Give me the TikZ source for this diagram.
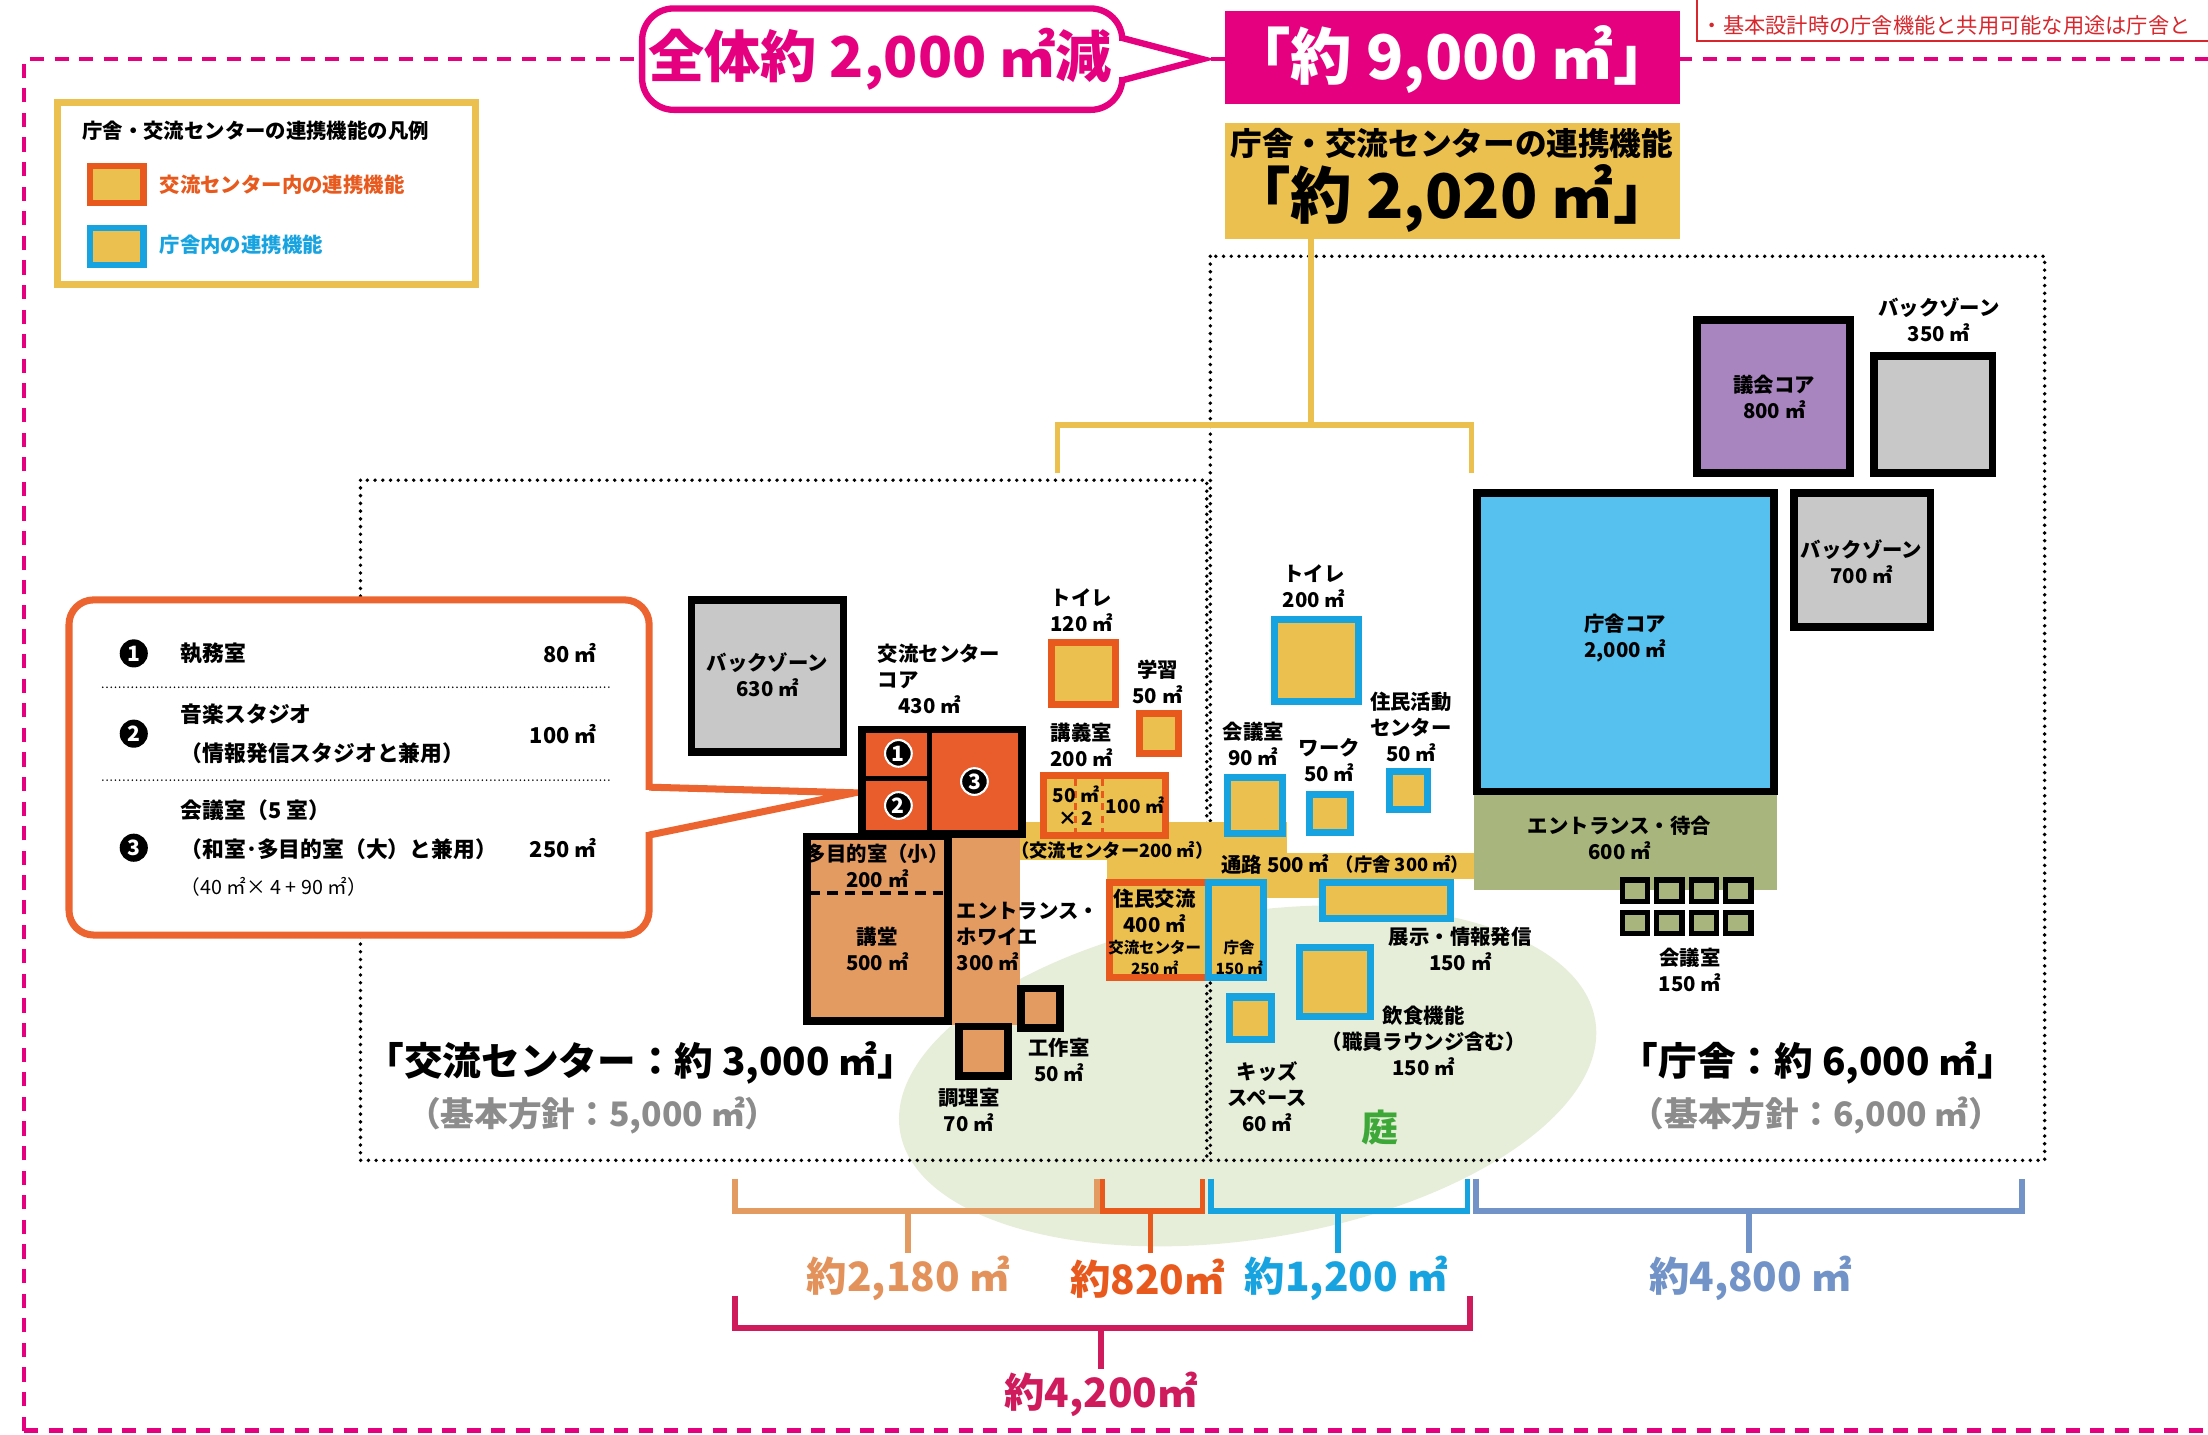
\documentclass[tikz,border=0pt]{standalone}
\usepackage{fontspec}
\setmainfont{Noto Sans CJK JP}
\usetikzlibrary{positioning}

\definecolor{pinkM}{HTML}{E4007F}
\definecolor{goldY}{HTML}{ECC04E}
\definecolor{orangeB}{HTML}{E8591D}
\definecolor{orangeC}{HTML}{EC6530}
\definecolor{coreR}{HTML}{E95C2C}
\definecolor{tanO}{HTML}{E39B62}
\definecolor{tanT}{HTML}{E2925A}
\definecolor{blueB}{HTML}{17A3E0}
\definecolor{blueC}{HTML}{56C0EE}
\definecolor{greenE}{HTML}{A8B57C}
\definecolor{purpleC}{HTML}{A885BF}
\definecolor{grayZ}{HTML}{C8C8C8}
\definecolor{gardenG}{HTML}{E6EEDA}
\definecolor{slateB}{HTML}{7193C7}
\definecolor{crimsonB}{HTML}{CF1A5B}
\definecolor{grayT}{HTML}{8C8C8C}
\definecolor{redT}{HTML}{D7262C}
\definecolor{niwaG}{HTML}{3DA838}

\newcommand\fsz[2]{\fontsize{#1}{#2}\selectfont}

\tikzset{
  lbl/.style={font=\fsz{5.8}{7.4}\bfseries, align=center, inner sep=0pt},
  small/.style={font=\fsz{4.4}{6}\bfseries, align=center, inner sep=0pt},
  cltxt/.style={font=\fsz{6.2}{11.2}\bfseries, inner sep=0pt},
  blk/.style={draw=black, line width=2.2pt},
  orgbox/.style={draw=orangeB, line width=2pt, fill=goldY},
  bluebox/.style={draw=blueB, line width=2pt, fill=goldY},
  dotline/.style={line width=1.1pt, line cap=round, dash pattern=on 0pt off 2.2pt},
  pinkdash/.style={draw=pinkM, line width=1.3pt, dash pattern=on 4pt off 3pt},
  goldline/.style={draw=goldY, line width=1.6pt},
  bracket/.style={line width=1.6pt},
  sumlbl/.style={font=\fsz{11.5}{13}\bfseries, inner sep=0pt},
  numdot/.style={circle, fill=black, text=white, inner sep=0pt,
    minimum size=8pt, font=\fsz{6}{7}\bfseries},
  coredot/.style={numdot, draw=white, line width=0.6pt, minimum size=7.6pt},
}

\begin{document}
\begin{tikzpicture}[x=0.01408cm, y=-0.01408cm]
  % Page: same units as the reference (1568 x 1019)
  \useasboundingbox (0,0) rectangle (1568,1019);
  \clip (0,0) rectangle (1568,1019);

  % Garden behind everything
  \fill[gardenG, rotate around={9:(886,764)}] (886,764) ellipse [x radius=250, y radius=116];

  % Outer dashed frame (runs off to the right)
  \draw[pinkdash] (17,1016) -- (17,42) -- (1590,42);
  \draw[pinkdash] (17,1016) -- (1590,1016);

  % Note box, top right (cut by the page edge)
  \draw[redT, line width=0.55pt] (1205,-5) -- (1205,29) -- (1590,29);
  \node[font=\fsz{6.05}{7.5}, text=redT, anchor=west, inner sep=0pt] (note) at (1208,18)
    {・基本設計時の庁舎機能と共用可能な用途は庁舎と};

  % Speech bubble: total reduction
  \draw[pinkM, line width=1.8pt, fill=white, rounded corners=9pt] (456,6) rectangle (797,78);
  \fill[white] (793,29) rectangle (802,55);
  \draw[pinkM, line width=1.8pt, fill=white] (797,27) -- (854,42) -- (797,57);
  \node[font=\fsz{16}{18}\bfseries, text=pinkM] (cut) at (625,42) {全体約 2,000 ㎡減};

  % Total floor area
  \fill[pinkM] (870,8) rectangle (1193,74);
  \node[font=\fsz{17.5}{20}\bfseries, text=white] (total) at (1031,42) {「約 9,000 ㎡」};

  % Shared functions
  \fill[goldY] (870,87) rectangle (1193,170);
  \node[font=\fsz{9}{10}\bfseries] (linkttl) at (1031,102) {庁舎・交流センターの連携機能};
  \node[font=\fsz{17.5}{20}\bfseries] (linkarea) at (1031,141) {「約 2,020 ㎡」};

  % Dotted outlines of the two buildings
  \draw[dotline] (256,341) rectangle (857,824);
  \draw[dotline] (859.5,182) rectangle (1452,824);

  % Gold tree from the shared-function box
  \coordinate (linkfoot) at (931,170);
  \coordinate (linkmid) at (931,302);
  \draw[goldline] (linkfoot) -- (linkmid);
  \draw[goldline] (751,336) |- (1045,302) -- (1045,336);

  % Legend
  \draw[goldY, line width=2pt, fill=white] (41,73) rectangle (338,202);
  \node[lbl, anchor=west] (legttl) at (58,93) {庁舎・交流センターの連携機能の凡例};
  \draw[orangeB, line width=1.8pt, fill=goldY] (64,118) rectangle (102,144);
  \node[lbl, anchor=west, text=orangeB] (legkoryu) at (113,131) {交流センター内の連携機能};
  \draw[blueB, line width=1.8pt, fill=goldY] (64,162) rectangle (102,188);
  \node[lbl, anchor=west, text=blueB] (legchosha) at (113,174) {庁舎内の連携機能};

  % Callout for the core rooms
  \draw[orangeC, line width=2pt, fill=white, rounded corners=7pt] (49,426) rectangle (461,664);
  \fill[white] (456,561) rectangle (467,591);
  \draw[orangeC, line width=2pt] (461,559) -- (607,563) -- (461,593);
  \node[numdot] (c1) at (95,464) {1};
  \node[cltxt, anchor=west] (c1name) at (128,464) {執務室};
  \node[cltxt, anchor=east] (c1area) at (424,464) {80 ㎡};
  \draw[dotline, line width=0.5pt, dash pattern=on 0pt off 1.2pt] (73,488) -- (433,488);
  \node[numdot] (c2) at (95,521) {2};
  \node[cltxt, anchor=west, align=left] (c2name) at (128,521) {音楽スタジオ\\（情報発信スタジオと兼用）};
  \node[cltxt, anchor=east] (c2area) at (424,521) {100 ㎡};
  \draw[dotline, line width=0.5pt, dash pattern=on 0pt off 1.2pt] (73,554) -- (433,554);
  \node[numdot] (c3) at (95,602) {3};
  \node[cltxt, anchor=west, align=left] (c3name) at (128,589) {会議室（5 室）\\（和室･多目的室（大）と兼用）};
  \node[cltxt, anchor=east] (c3area) at (424,602) {250 ㎡};
  \node[font=\fsz{5.6}{7}, anchor=west, inner sep=0pt] (c3note) at (128,630) {（40 ㎡× 4 + 90 ㎡）};

  % Gold corridor band
  \fill[goldY] (724,584) rectangle (914,611);
  \fill[goldY] (786,584) rectangle (914,628);
  \fill[goldY] (858,606) rectangle (1048,624);
  \fill[goldY] (895,606) rectangle (937,638);

  % Exchange centre rooms
  \draw[blk, fill=grayZ] (491,426) rectangle (599,534);
  \node[lbl] (bz630) at (545,479) {バックゾーン\\630 ㎡};
  \fill[tanO] (673,592) rectangle (724,728);
  \draw[blk, fill=tanO] (573,594) rectangle (673,725);
  \draw[black, line width=1.1pt, dash pattern=on 3pt off 2pt] (575,634) -- (671,634);
  \draw[blk, fill=coreR] (612,518) rectangle (726,592);
  \draw[black, line width=1.3pt] (660,518) -- (660,592);
  \draw[black, line width=1.3pt] (612,553) -- (660,553);
  \node[coredot] (k1) at (638,535) {1};
  \node[coredot] (k2) at (638,572) {2};
  \node[coredot] (k3) at (692,555) {3};
  \node[lbl, anchor=north west, align=left] (kcore) at (623,457) {交流センター\\コア\\\hphantom{コ}430 ㎡};
  \node[lbl] (tamoku) at (623,615) {多目的室（小）\\200 ㎡};
  \node[lbl] (kodo) at (623,674) {講堂\\500 ㎡};
  \node[lbl, anchor=west, align=left] (hoyer) at (679,665) {エントランス・\\ホワイエ\\300 ㎡};
  \draw[blk, fill=tanO] (681,729) rectangle (716,764);
  \draw[blk, fill=tanO] (725,702) rectangle (753,730);
  \node[lbl] (kosaku) at (752,753) {工作室\\50 ㎡};
  \node[lbl] (chori) at (688,788) {調理室\\70 ㎡};

  % Shared rooms inside the exchange centre
  \draw[orgbox] (747,456) rectangle (792,500);
  \node[lbl] (wc120) at (768,433) {トイレ\\120 ㎡};
  \draw[orgbox] (809,507) rectangle (837,535);
  \node[lbl] (gaku) at (822,484) {学習\\50 ㎡};
  \draw[orgbox] (741,551) rectangle (828,593);
  \draw[orangeB, line width=0.8pt, dash pattern=on 2pt off 1.5pt] (764,553) -- (764,591);
  \draw[orangeB, line width=0.8pt, dash pattern=on 2pt off 1.5pt] (783,553) -- (783,591);
  \node[lbl] (kogi) at (768,529) {講義室\\200 ㎡};
  \node[font=\fsz{5.4}{6.4}\bfseries, align=center, inner sep=0pt] (kogi50) at (764,572) {50 ㎡\\× 2};
  \node[font=\fsz{5.4}{6.4}\bfseries, inner sep=0pt] (kogi100) at (806,572) {100 ㎡};
  \node[font=\fsz{5.2}{6}\bfseries, inner sep=0pt] (bandk) at (790,604) {（交流センター200 ㎡）};
  \draw[orgbox] (788,627) rectangle (858,694);
  \draw[bluebox] (858,627) rectangle (897,694);
  \node[lbl] (jumin) at (820,647) {住民交流\\400 ㎡};
  \node[small] (jumink) at (820,680) {交流センター\\250 ㎡};
  \node[small] (jumin150) at (880,680) {庁舎\\150 ㎡};

  % Shared rooms inside the city hall
  \node[lbl, anchor=west] (tsuro) at (867,614) {通路 500 ㎡};
  \node[font=\fsz{5.2}{6}\bfseries, inner sep=0pt] (bandc) at (996,614) {（庁舎 300 ㎡）};
  \draw[bluebox] (905,440) rectangle (965,498);
  \node[lbl] (wc200) at (933,416) {トイレ\\200 ㎡};
  \draw[bluebox] (872,552) rectangle (911,592);
  \node[lbl] (kaigi90) at (890,528) {会議室\\90 ㎡};
  \draw[bluebox] (930,564) rectangle (959,591);
  \node[lbl] (work) at (944,540) {ワーク\\50 ㎡};
  \draw[bluebox] (987,548) rectangle (1014,575);
  \node[lbl] (katsudo) at (1002,516) {住民活動\\センター\\50 ㎡};
  \draw[bluebox] (939,627) rectangle (1030,652);
  \node[lbl] (tenji) at (1037,674) {展示・情報発信\\150 ㎡};
  \draw[bluebox] (923,673) rectangle (973,722);
  \node[lbl] (inshoku) at (1011,739) {飲食機能\\（職員ラウンジ含む）\\150 ㎡};
  \draw[bluebox] (873,708) rectangle (903,738);
  \node[lbl] (kids) at (900,779) {キッズ\\スペース\\60 ㎡};
  \node[font=\fsz{10.5}{12}\bfseries, text=niwaG, inner sep=0pt] (niwa) at (980,801) {庭};

  % City hall core block
  \fill[greenE] (1047,562) rectangle (1262,632);
  \draw[blk, fill=blueC] (1049,350) rectangle (1260,562);
  \node[lbl] (ccore) at (1154,453) {庁舎コア\\2,000 ㎡};
  \node[lbl] (wait) at (1150,595) {エントランス・待合\\600 ㎡};
  \foreach \i in {0,1,2,3} {
    \draw[blk, line width=1.5pt, fill=greenE] (1152+24.5*\i,625) rectangle ++(18,15);
    \draw[blk, line width=1.5pt, fill=greenE] (1152+24.5*\i,648) rectangle ++(18,15);
  }
  \node[lbl] (kaigi150) at (1200,689) {会議室\\150 ㎡};
  \draw[blk, fill=purpleC] (1205,227) rectangle (1314,336);
  \node[lbl] (gikai) at (1260,282) {議会コア\\800 ㎡};
  \draw[blk, fill=grayZ] (1331,253) rectangle (1415,336);
  \node[lbl] (bz350) at (1377,227) {バックゾーン\\350 ㎡};
  \draw[blk, fill=grayZ] (1274,350) rectangle (1371,445);
  \node[lbl] (bz700) at (1322,399) {バックゾーン\\700 ㎡};

  % Building totals
  \node[font=\fsz{11}{13}\bfseries, anchor=west, inner sep=0pt] (kttl) at (259,755) {「交流センター：約 3,000 ㎡」};
  \node[font=\fsz{9.6}{11}\bfseries, text=grayT, inner sep=0pt] (kbase) at (421,792) {（基本方針：5,000 ㎡）};
  \node[font=\fsz{11}{13}\bfseries, inner sep=0pt] (cttl) at (1291,755) {「庁舎：約 6,000 ㎡」};
  \node[font=\fsz{9.6}{11}\bfseries, text=grayT, inner sep=0pt] (cbase) at (1290,792) {（基本方針：6,000 ㎡）};

  % Area brackets
  \draw[bracket, tanO] (522,837) |- (779,860) -- (779,837);
  \draw[bracket, tanO] (645,860) -- (645,890);
  \node[sumlbl, text=tanT] (s2180) at (645,908) {約2,180 ㎡};
  \draw[bracket, orangeB] (783,837) |- (854,860) -- (854,837);
  \draw[bracket, orangeB] (817,860) -- (817,890);
  \node[sumlbl, text=orangeB] (s820) at (815,908) {約820㎡};
  \draw[bracket, blueB] (860,837) |- (1042,860) -- (1042,837);
  \draw[bracket, blueB] (950,860) -- (950,890);
  \node[sumlbl, text=blueB] (s1200) at (956,908) {約1,200 ㎡};
  \draw[bracket, slateB] (1048,837) |- (1436,860) -- (1436,837);
  \draw[bracket, slateB] (1242,860) -- (1242,890);
  \node[sumlbl, text=slateB] (s4800) at (1243,908) {約4,800 ㎡};
  \draw[bracket, crimsonB] (522,920) |- (1044,943) -- (1044,920);
  \draw[bracket, crimsonB] (782,943) -- (782,972);
  \node[sumlbl, text=crimsonB] (s4200) at (782,990) {約4,200㎡};
\end{tikzpicture}
\end{document}
